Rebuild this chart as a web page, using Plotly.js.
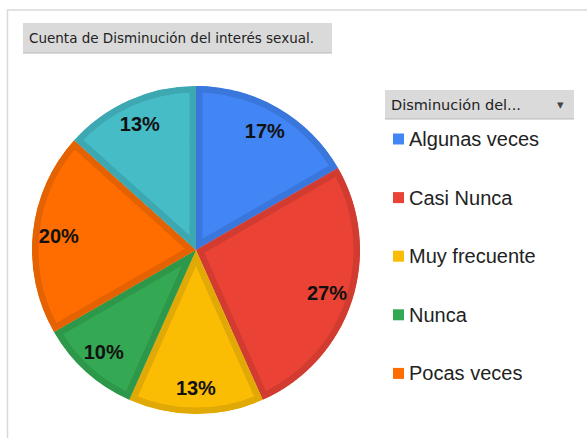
<!DOCTYPE html>
<html><head><meta charset="utf-8">
<script src="https://cdn.plot.ly/plotly-3.0.1.min.js"></script>
<style>html,body{margin:0;padding:0;background:#fff}#c{width:587px;height:438px}</style>
</head><body><div id="c"></div>
<script>
const labels = ["Algunas veces","Casi Nunca","Muy frecuente","Nunca","Pocas veces","Siempre"];
const counts = [5, 8, 4, 3, 6, 4];
const fillColors = ["#4285F4","#EA4335","#FBBC04","#34A853","#FF6D01","#46BDC6"];
const edgeColors = ["#3A77DC","#D23C30","#E1A905","#2E984A","#E46201","#3DA8B1"];
const legendCount = 5;
const chartTitle = "Cuenta de Disminución del interés sexual.";
const legendHeader = "Disminución del...";

const W = 587, H = 438;
const px = x => x / W, py = y => 1 - y / H;

const shapes = [
  {type:"rect", xref:"paper", yref:"paper", x0:px(7.5), x1:px(600), y0:py(10), y1:py(450), line:{color:"#d9d9d9", width:1.5}, fillcolor:"rgba(0,0,0,0)", layer:"below"},
  {type:"rect", xref:"paper", yref:"paper", x0:px(23), x1:px(332), y0:py(23), y1:py(53), line:{width:0}, fillcolor:"#dadada", layer:"below"},
  {type:"line", xref:"paper", yref:"paper", x0:px(23), x1:px(332), y0:py(53), y1:py(53), line:{color:"#b8b8b8", width:1}},
  {type:"rect", xref:"paper", yref:"paper", x0:px(385), x1:px(574), y0:py(90), y1:py(119), line:{width:0}, fillcolor:"#dadada", layer:"below"},
  {type:"line", xref:"paper", yref:"paper", x0:px(385), x1:px(574), y0:py(119), y1:py(119), line:{color:"#b8b8b8", width:1}}
];
const annotations = [
  {xref:"paper", yref:"paper", x:px(27), y:py(38), xanchor:"left", yanchor:"middle", showarrow:false, text:chartTitle, font:{family:"DejaVu Sans", size:13.5, color:"#222"}},
  {xref:"paper", yref:"paper", x:px(389), y:py(105), xanchor:"left", yanchor:"middle", showarrow:false, text:legendHeader, font:{family:"DejaVu Sans", size:14.5, color:"#222"}},
  {xref:"paper", yref:"paper", x:px(560), y:py(104), xanchor:"center", yanchor:"middle", showarrow:false, text:"▾", font:{family:"DejaVu Sans", size:13, color:"#444"}}
];
for (let i = 0; i < legendCount; i++) {
  const yc = 139 + i * 58.6;
  shapes.push({type:"rect", xref:"paper", yref:"paper", x0:px(393), x1:px(404), y0:py(yc-5.5), y1:py(yc+5.5), line:{width:0}, fillcolor:fillColors[i]});
  annotations.push({xref:"paper", yref:"paper", x:px(407), y:py(yc), xanchor:"left", yanchor:"middle", showarrow:false, text:labels[i], font:{family:"Liberation Sans", size:20, color:"#222"}});
}

const dom = {x:[px(196-164), px(196+164)], y:[py(250+164), py(250-164)]};
const data = [{
  type:"pie", labels:labels, values:counts, sort:false, direction:"clockwise", rotation:0,
  marker:{colors:fillColors, line:{color:edgeColors, width:13}},
  textinfo:"none", domain:dom, showlegend:false, hoverinfo:"label+percent"
},{
  type:"pie", labels:labels, values:counts, sort:false, direction:"clockwise", rotation:0, hole:0.68,
  marker:{colors:labels.map(()=>"rgba(0,0,0,0)"), line:{width:0}},
  texttemplate:"%{percent:.0%}", textposition:"inside", insidetextorientation:"horizontal",
  textfont:{family:"Liberation Sans", size:20, color:"#111", weight:700},
  domain:dom, showlegend:false, hoverinfo:"skip"
}];
const layout = {width:W, height:H, margin:{l:0,r:0,t:0,b:0}, paper_bgcolor:"#fff", shapes:shapes, annotations:annotations, showlegend:false};
Plotly.newPlot("c", data, layout, {displayModeBar:false, staticPlot:true}).then(gd => {
  // keep each slice's border inside the slice (inset border), by clipping the slice to its own outline
  const svg = gd.querySelector("svg.main-svg");
  const NS = "http://www.w3.org/2000/svg";
  let defs = svg.querySelector("defs");
  if (!defs) { defs = document.createElementNS(NS, "defs"); svg.insertBefore(defs, svg.firstChild); }
  const firstTrace = gd.querySelectorAll(".pielayer .trace")[0];
  firstTrace.querySelectorAll("g.slice").forEach((g, i) => {
    const p = g.querySelector("path.surface");
    if (!p) return;
    const cp = document.createElementNS(NS, "clipPath");
    cp.setAttribute("id", "sliceclip" + i);
    const cpp = document.createElementNS(NS, "path");
    cpp.setAttribute("d", p.getAttribute("d"));
    const tr = p.getAttribute("transform"); if (tr) cpp.setAttribute("transform", tr);
    cp.appendChild(cpp);
    defs.appendChild(cp);
    p.setAttribute("clip-path", "url(#sliceclip" + i + ")");
  });
});
</script></body></html>
